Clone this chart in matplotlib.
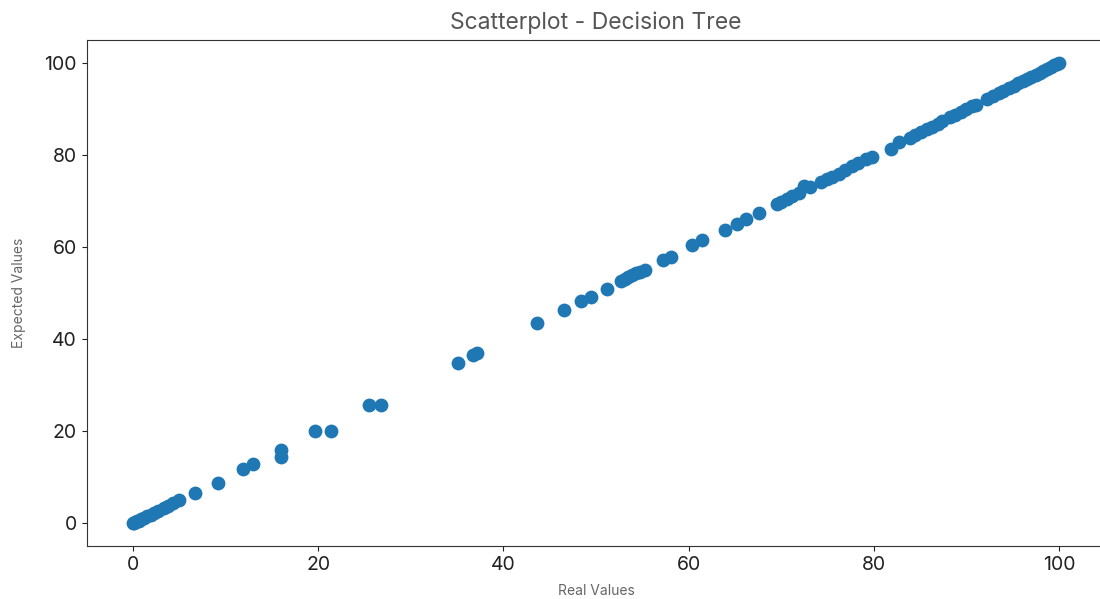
import matplotlib
matplotlib.use("Agg")
import matplotlib.pyplot as plt

plt.rcParams['font.family'] = ['Inter', 'DejaVu Sans']

# real values (x) and decision tree predictions (y)
real = [0.0, 0.1, 0.2, 0.4, 0.6, 0.9, 1.2, 1.5, 1.9, 2.3, 2.7, 3.3, 3.8, 4.3, 5.0,
        6.7, 9.2, 11.9, 13.0, 16.0, 16.0, 19.7, 21.4, 25.5, 26.8,
        35.1, 36.7, 37.2, 43.6, 46.5, 48.4, 49.5, 51.2,
        52.7, 53.1, 53.5, 53.9, 54.3, 54.8, 55.3, 57.2, 58.1, 60.4, 61.5,
        63.9, 65.2, 66.2, 67.6, 69.5, 70.0, 70.6, 71.2, 71.9, 72.5, 73.1,
        74.3, 74.9, 75.5, 76.2, 76.9, 77.6, 78.3, 79.2, 79.8,
        81.9, 82.7, 83.9, 84.5, 85.1, 85.7, 86.3, 86.9, 87.4,
        88.2, 88.8, 89.4, 90.0, 90.6, 91.0, 92.2,
        92.9, 93.5, 94.0, 94.6, 95.1, 95.6, 96.1, 96.6, 97.0, 97.5,
        97.9, 98.3, 98.7, 99.1, 99.5, 99.8, 100.0]
expected = [0.0, 0.0, 0.2, 0.4, 0.6, 0.9, 1.2, 1.5, 1.9, 2.3, 2.7, 3.3, 3.8, 4.3, 5.0,
            6.5, 8.7, 11.7, 12.8, 14.5, 16.0, 20.0, 20.0, 25.8, 25.8,
            34.8, 36.5, 37.1, 43.5, 46.3, 48.3, 49.1, 50.9,
            52.7, 53.1, 53.5, 53.9, 54.3, 54.7, 55.1, 57.2, 57.9, 60.4, 61.5,
            63.8, 65.0, 66.1, 67.5, 69.4, 69.9, 70.5, 71.1, 71.8, 73.3, 73.0,
            74.2, 74.8, 75.3, 76.0, 76.8, 77.6, 78.3, 79.1, 79.6,
            81.3, 82.9, 83.8, 84.4, 85.0, 85.6, 86.2, 86.8, 87.4,
            88.2, 88.8, 89.4, 90.0, 90.6, 91.0, 92.2,
            92.9, 93.5, 94.0, 94.6, 95.1, 95.6, 96.1, 96.6, 97.0, 97.5,
            97.9, 98.3, 98.7, 99.1, 99.5, 99.8, 100.0]

fig = plt.figure(figsize=(11, 5.99), dpi=100)
# right edge of the axes runs past the figure, as in the cropped original
ax = fig.add_axes([0.0788, 0.088, 0.926, 0.845])

ax.scatter(real, expected, s=80, color='#1f77b4')

ax.set_title('Scatterplot - Decision Tree', fontsize=16.5, color='#555555', pad=8)
ax.set_xlabel('Real Values', fontsize=10, color='#666666', labelpad=7)
ax.set_ylabel('Expected Values', fontsize=10, color='#666666', labelpad=13)
ax.tick_params(labelsize=14, colors='#222222')
for sp in ax.spines.values():
    sp.set_color('#333333')

plt.savefig("out.png")
